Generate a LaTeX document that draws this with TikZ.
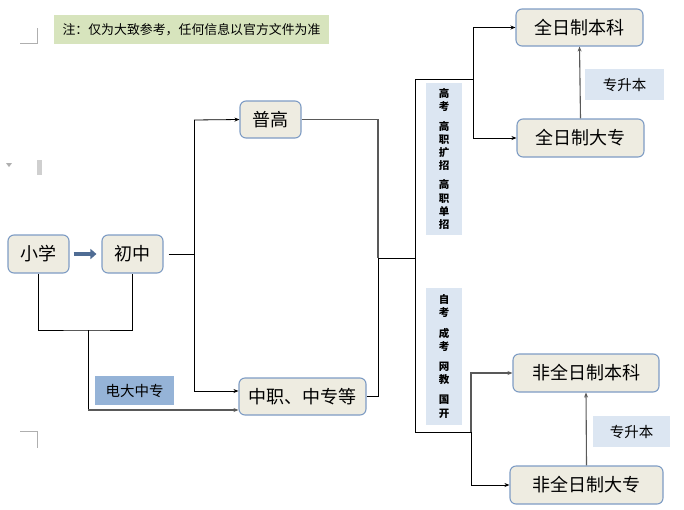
\documentclass[tikz,border=0pt]{standalone}
\usepackage{fontspec}
\setmainfont{Noto Sans CJK SC}
\newfontfamily\cjk{Noto Sans CJK SC}
\usetikzlibrary{arrows.meta}
\definecolor{boxfill}{RGB}{238,236,225}
\definecolor{boxline}{RGB}{126,156,196}
\definecolor{notegreen}{RGB}{215,228,189}
\definecolor{lblue}{RGB}{220,230,242}
\definecolor{mblue}{RGB}{149,179,215}
\definecolor{arrblue}{RGB}{79,108,148}
\definecolor{lgray}{RGB}{89,89,89}
\definecolor{markgray}{RGB}{175,175,175}
\tikzset{
  nb/.style={draw=boxline, fill=boxfill, line width=1.1pt, rounded corners=6pt,
    inner sep=0pt, font=\fontsize{18}{20}\selectfont},
  ln/.style={draw=black, line width=0.8pt},
  gl/.style={draw=lgray, line width=1.1pt},
  tip/.style={-{Stealth[length=5pt,width=4pt]}},
  lab/.style={inner sep=0pt, font=\fontsize{14.5}{16}\selectfont},
  vtext/.style={fill=lblue, inner sep=0pt, align=center,
    font=\bfseries\fontsize{10.5}{13.2}\selectfont},
  pagemark/.style={draw=markgray, line width=1pt}
}
\begin{document}
\begin{tikzpicture}[x=1pt,y=-1pt]
\useasboundingbox (0,0) rectangle (684,509);
% page marks
\draw[pagemark] (20,43) -- (37,43) -- (37,28);
\draw[pagemark] (20,431) -- (37,431) -- (37,448);
\fill[markgray!60] (37,160) rectangle (42,175);
\fill[markgray] (6,163) -- (12,163) -- (9,167) -- cycle;
% note
\node[fill=notegreen, minimum width=275pt, minimum height=29pt, inner sep=0pt,
  font=\fontsize{12.9}{14}\selectfont] (note) at (191.5,29.5) {注：仅为大致参考，任何信息以官方文件为准};
% main nodes
\node[nb, minimum width=61pt, minimum height=38pt] (xx) at (38.5,254) {小学};
\node[nb, minimum width=61pt, minimum height=38pt] (cz) at (132.5,254) {初中};
\node[nb, minimum width=61pt, minimum height=37pt] (pg) at (270.5,119.5) {普高};
\node[nb, minimum width=127pt, minimum height=37pt] (zz) at (302.5,396.5) {中职、中专等};
\node[nb, minimum width=127pt, minimum height=37pt] (qb) at (579.5,27.5) {全日制本科};
\node[nb, minimum width=127pt, minimum height=38pt] (qd) at (580.5,138) {全日制大专};
\node[nb, minimum width=146pt, minimum height=38pt] (fb) at (586,373) {非全日制本科};
\node[nb, minimum width=153pt, minimum height=38pt] (fd) at (586.5,485) {非全日制大专};
% labels
\node[lab, fill=mblue, minimum width=79pt, minimum height=29pt] (dd) at (134.5,390.5) {电大中专};
\node[lab, fill=lblue, minimum width=79pt, minimum height=31pt] (s1) at (624.5,84.5) {专升本};
\node[lab, fill=lblue, minimum width=77pt, minimum height=31pt] (s2) at (631.5,431.5) {专升本};
\node[vtext, minimum width=36pt, minimum height=152pt] (v1) at (444,159)
  {高\\考\\[6pt]高\\职\\扩\\招\\[6pt]高\\职\\单\\招};
\node[vtext, minimum width=36pt, minimum height=137pt] (v2) at (444,356.5)
  {自\\考\\[7pt]成\\考\\[7pt]网\\教\\[7pt]国\\开};
% thick arrow
\draw[draw=arrblue, line width=4pt, -{Triangle[length=6pt,width=10pt]}] (xx.east) ++(4,0) -- ([xshift=-5pt]cz.west);
% junction coordinates
\coordinate (a0) at (194,254);
\coordinate (a1) at (194,120);
\coordinate (a2) at (194,391);
\coordinate (b1) at (88,330);
\coordinate (b2) at (88,410);
\coordinate (c1) at (378,258);
\coordinate (d0) at (415,258);
\coordinate (d1) at (415,79);
\coordinate (d2) at (415,432);
\coordinate (e1) at (473,79);
\coordinate (f1) at (471,432);
% connectors
\draw[ln] ([xshift=5pt]cz.east) -- (a0);
\draw[ln] (a1) -- (a2);
\draw[ln,tip] (a1) -- (pg.west);
\draw[ln,tip] (a2) -- (a2 -| zz.west);
\draw[ln] (xx.south) |- (b1) -| (cz.south);
\draw[ln] (b1) -- (b2);
\draw[gl,tip] (b2) -- (b2 -| zz.west);
\draw[gl] (pg.east) -| (c1);
\draw[ln] (zz.east) -| (c1);
\draw[ln] (c1) -- (d0);
\draw[ln] (d1) -- (d2);
\draw[ln] (d1) -- (e1);
\draw[ln,tip] (e1) |- (qb.west);
\draw[ln,tip] (e1) |- (qd.west);
\draw[ln] (d2) -- (f1);
\draw[gl,tip] (f1) |- (fb.west);
\draw[ln,tip] (f1) |- (fd.west);
\draw[gl,tip] (qd.north) -- (qb.south);
\draw[gl,tip] (fd.north) -- (fb.south);
\end{tikzpicture}
\end{document}
